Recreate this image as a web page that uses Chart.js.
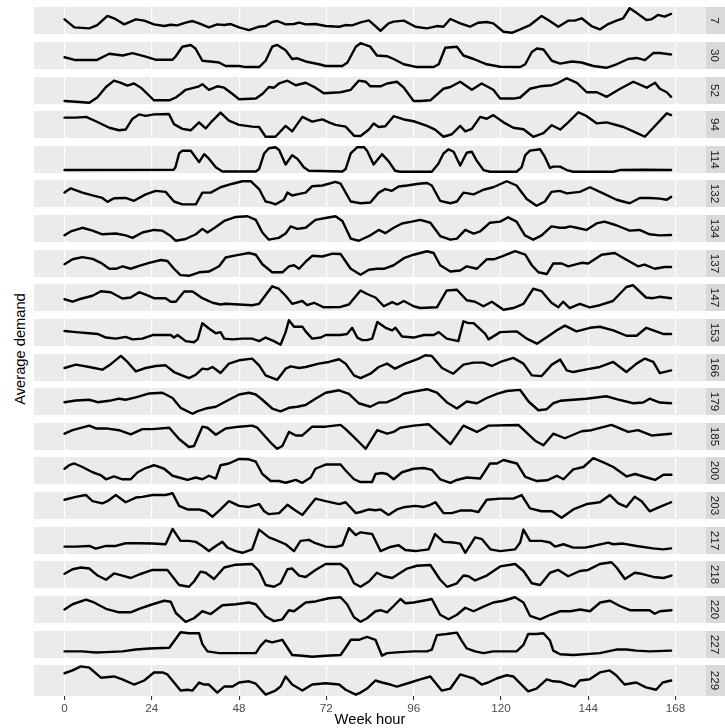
<!DOCTYPE html>
<html>
<head>
<meta charset="utf-8">
<script src="https://cdn.jsdelivr.net/npm/chart.js@4"></script>
<style>
  body { margin: 0; background: #fff; width: 725px; height: 728px; overflow: hidden; position: relative;
         font-family: "Liberation Sans", Arial, sans-serif; }
  canvas { position: absolute; left: 34px; }
  #ytitle { position: absolute; left: 20px; top: 349px; transform: translate(-50%, -50%) rotate(-90deg);
            font-size: 14.7px; white-space: nowrap; color: #000; }
</style>
</head>
<body>
<div id="ytitle">Average demand</div>
<script>
// week hour ticks
const weekTicks = [0, 24, 48, 72, 96, 120, 144, 168];

// station ids (facet strips)
const stations = ['7', '30', '52', '94', '114', '132', '134', '137', '147', '153',
                  '166', '179', '185', '200', '203', '217', '218', '220', '227', '229'];

// [hour, average demand] (free y scale per panel)
const s7 = [[0,45],[2.7,21],[6.8,18],[9,28],[11.8,55],[13.6,48],[16.4,30],[19.6,45],[21.9,41],[24.6,30],[27.4,25],[29.2,29],[31,27],[33.3,35],[35.2,40],[37,33],[39.7,21],[42,30],[43.9,28],[45.7,31],[48,21],[50.7,13],[53.5,23],[55.3,25],[57.1,37],[58.5,40],[60.8,30],[63.1,31],[64.5,35],[66.3,30],[69,31],[71.8,25],[75.5,23],[77.3,28],[79.1,27],[81.4,36],[83.7,42],[86.9,11],[89.1,33],[90.5,38],[93.3,41],[96.5,23],[99.7,18],[102.4,25],[104.2,23],[106.1,46],[108.8,33],[111.5,23],[113.8,35],[116.1,37],[117.9,33],[120.7,8],[123,5],[125.3,15],[128,28],[131.2,55],[133,43],[135.8,23],[138.5,41],[140.3,41],[142.2,48],[144.9,25],[147.2,15],[149.5,31],[151.8,41],[153.6,48],[155.4,78],[157.2,65],[160,43],[161.4,45],[163.2,58],[165,53],[166.8,61]];
const s30 = [[0,35],[3,27],[8.8,27],[12.3,45],[16,40],[18.7,47],[22.3,37],[25,28],[29.7,28],[30.6,38],[32.4,65],[34.7,70],[36,60],[37.9,25],[40.7,22],[42.5,20],[44.3,10],[48,10],[49.8,7],[53.5,7],[55.3,25],[57.1,65],[58.5,70],[60.8,55],[62.6,30],[64,32],[66.3,23],[70,15],[71.8,10],[76.4,10],[77.8,20],[80.1,65],[81.4,75],[84.1,65],[85.9,40],[88.7,38],[90.5,30],[93.3,15],[96.9,7],[101.5,7],[102.9,15],[104.7,62],[107.9,65],[109.7,40],[112.5,30],[116.1,15],[119.8,8],[125.3,7],[126.7,15],[128.5,50],[129.9,60],[131.7,57],[134,25],[136.3,17],[139.5,23],[142.2,20],[145.4,10],[149,5],[151.8,15],[155,30],[157.3,33],[159.6,27],[161.9,47],[163.7,47],[166.8,43]];
const s52 = [[0,10],[3.1,8],[6.8,5],[9,20],[11.4,50],[13.6,68],[15.5,62],[17.3,54],[19.1,60],[21,48],[23.3,25],[24.6,12],[28.8,12],[30.6,20],[31.9,30],[33.3,42],[35.2,47],[37,52],[37.9,58],[39.7,42],[42,52],[43.9,48],[46.2,30],[48,15],[52.6,17],[54.4,30],[56.2,50],[57.6,48],[59,60],[61.3,68],[63.6,55],[66.3,62],[69,48],[71.3,32],[75.9,35],[78.7,42],[80.9,68],[82.8,65],[84.1,52],[86.9,52],[88.7,60],[91.4,65],[93.3,48],[96,10],[97.8,10],[100.6,12],[104.2,45],[106.1,50],[108.8,65],[112,42],[114.7,60],[117.9,42],[119.8,17],[123.4,17],[125.3,20],[128,45],[130.8,52],[134,55],[135.4,60],[138.1,75],[140.9,62],[143.6,35],[146.4,35],[149.1,22],[152.8,45],[156.4,65],[160.1,48],[162.4,62],[163.7,45],[165.6,35],[166.8,22]];
const s94 = [[0,61],[3.1,61],[5.9,63],[8.6,51],[12.3,33],[15,26],[16.8,28],[18.7,58],[20.5,70],[22.3,66],[24.6,70],[28.7,71],[30.1,43],[32.4,30],[34.7,26],[37,48],[38.8,31],[40.7,53],[42.9,75],[45.2,53],[48,41],[51.6,36],[53.5,35],[55.3,8],[58,8],[60.8,38],[62.6,23],[65.4,63],[68.1,50],[70.9,56],[72.7,48],[74.5,41],[77.3,36],[79.6,11],[81.4,10],[83.7,28],[85,45],[86.4,35],[88.2,37],[90.5,65],[93.3,56],[96,51],[99.7,38],[101.9,28],[104.2,8],[106.5,15],[108.8,38],[110.2,23],[112,30],[114.3,63],[116.1,58],[117.9,68],[120.7,48],[123.4,33],[126.2,29],[128.9,8],[131.7,18],[134,40],[136.3,28],[138.5,48],[141.3,76],[143.6,65],[146.4,45],[149.1,48],[153.7,35],[156.4,23],[159.6,8],[161.9,33],[165.6,73],[166.8,68]];
const s114 = [[0,10],[30,11],[30.5,18],[31.5,58],[32.4,66],[34.7,66],[37,33],[38.4,56],[39.7,43],[41.6,18],[43.4,6],[52.6,6],[53.5,13],[54.9,58],[56.2,73],[58,76],[59,68],[60.8,26],[62.6,53],[64,43],[65.8,18],[67.2,8],[76.4,6],[77.3,13],[78.7,58],[80.5,76],[82.4,76],[83.2,66],[85,26],[87.3,56],[89.1,36],[90.9,8],[92.3,5],[101,5],[102.8,28],[104.2,58],[105.6,70],[107,63],[108.8,23],[110.6,60],[112,63],[113.3,38],[115.2,10],[117,5],[124.3,5],[125.7,18],[126.7,53],[128,66],[130.8,70],[132.1,48],[133.5,16],[134.4,20],[136.3,20],[138.1,10],[139.9,5],[150.9,5],[152.7,10],[159.1,11],[166.8,10]];
const s132 = [[0,42],[1.7,54],[4.9,42],[7.7,34],[10.4,27],[11.8,16],[13.6,26],[16.8,27],[19.1,19],[22.3,37],[25.1,47],[27.8,44],[30.1,17],[32.4,9],[36.1,9],[37.9,42],[40.2,42],[42.9,57],[46.2,67],[48.9,74],[51.2,74],[53.5,52],[55.3,17],[56.7,14],[58,9],[60.3,22],[61.3,42],[62.6,34],[64.9,39],[66.3,42],[68.1,60],[70.9,62],[74.5,72],[75.9,67],[78.7,17],[81.4,12],[84.1,14],[86.4,42],[88.2,52],[90,47],[91.9,59],[94.2,62],[97.4,67],[99.7,69],[101,62],[103.3,19],[106.1,12],[107.9,17],[109.7,42],[112.5,37],[115.2,50],[117.9,57],[121.6,74],[124.3,62],[127.1,24],[129.8,5],[132.1,17],[133.9,44],[136.2,47],[138.1,40],[141.7,44],[144.5,57],[148.1,40],[151.8,22],[155.4,12],[158.2,27],[160.9,27],[163.7,25],[165.6,22],[166.8,30]];
const s134 = [[0,22],[1.7,33],[4.9,43],[7.7,35],[10.4,25],[14.1,27],[16.8,22],[18.7,15],[21.4,30],[24.6,37],[26.9,35],[29.2,20],[30.6,7],[33.3,12],[36.1,25],[37.9,40],[39.3,30],[41.6,45],[43.9,62],[47.1,73],[50.3,75],[52.6,65],[54.4,30],[56.2,10],[58.9,15],[60.8,27],[62.2,47],[64,40],[66.3,43],[69,65],[71.8,70],[74.5,75],[76.4,62],[78.7,13],[80.9,7],[84.1,22],[86.4,37],[88.2,28],[90.5,43],[92.8,55],[95.5,60],[97.8,65],[100.6,57],[103.3,20],[106.1,10],[107.9,13],[110.2,37],[112.5,27],[114.3,33],[117,57],[119.8,60],[122,72],[124.3,60],[126.6,22],[128.9,10],[131.2,22],[133.9,47],[136.2,43],[137.6,43],[139,47],[140.8,43],[143.5,37],[146.3,55],[148.5,60],[151.7,50],[155.4,35],[158.1,37],[160.9,25],[163.6,22],[166.8,23]];
const s137 = [[0,38],[2.2,52],[4.9,58],[7.7,53],[10,42],[12.3,25],[14.1,25],[16,32],[18.2,25],[20.5,33],[23.3,42],[26.5,50],[28.3,47],[30.1,25],[31.9,7],[34.2,5],[37,15],[39.7,17],[42.5,32],[44.3,57],[47.1,63],[50.7,70],[52.6,65],[54.4,38],[57.1,15],[59.9,15],[61.7,32],[63.1,35],[64.5,25],[66.3,45],[68.1,62],[70.9,60],[73.7,68],[75.9,67],[78.7,25],[81.4,8],[83.7,22],[86,25],[87.8,25],[90.5,35],[93.3,55],[96,65],[99.7,75],[101.5,70],[103.3,35],[106.1,17],[108.8,20],[110.6,32],[113.4,25],[116.1,52],[118,52],[120.3,60],[123.9,75],[126.7,65],[128.5,35],[130.3,15],[132.6,10],[134.4,40],[136.7,40],[138.5,32],[142.2,42],[144,40],[147.7,65],[151.3,70],[155,48],[157.7,32],[159.5,37],[162.3,25],[165,30],[166.8,30]];
const s147 = [[0,33],[2.2,26],[4,33],[7.7,43],[10,56],[12.7,53],[15.9,35],[18.2,38],[20.5,53],[22.3,46],[24.6,36],[27.8,36],[29.2,26],[30.6,26],[32.9,55],[35.2,55],[37.9,36],[40.7,23],[42.9,18],[44.3,20],[48,18],[51.6,16],[53.5,20],[57.1,70],[58.9,63],[60.8,43],[62.6,20],[65.4,28],[66.7,16],[68.6,23],[71.3,10],[75.9,11],[78.2,18],[81.4,58],[83.2,48],[85.5,38],[87.8,13],[90.1,25],[91.5,18],[93.3,28],[96,13],[97.8,8],[102.4,10],[105.1,58],[107.9,60],[110.6,30],[112.9,26],[115.2,13],[117.5,26],[120.7,3],[123.4,8],[126.2,20],[128.9,63],[131.2,56],[133.9,23],[135.8,10],[137.1,26],[138.9,8],[141.7,20],[144.4,10],[147.2,16],[150.8,28],[154.5,68],[156.3,73],[159.9,38],[161.8,36],[163.6,40],[166.8,36]];
const s153 = [[0,45],[3.1,42],[6.8,39],[9.1,37],[11.4,27],[14.1,24],[16.8,29],[18.7,22],[21.4,24],[24.2,34],[26.9,34],[29.2,34],[30.1,27],[31.1,34],[33.3,17],[35.6,14],[36.6,22],[37.9,67],[39.7,52],[41.6,39],[42.9,42],[43.9,24],[46.2,22],[48.9,24],[51.6,24],[53.5,17],[55.3,27],[57.6,17],[59.4,7],[60.8,42],[61.7,75],[63.1,57],[65.4,57],[66.3,44],[68.1,24],[70.5,27],[71.8,34],[75.9,34],[77.7,37],[79.1,54],[80.5,27],[81.9,20],[83.2,20],[84.6,24],[86,70],[88.3,54],[90.1,47],[91,54],[92.8,30],[96,27],[98.8,34],[101.5,34],[102.9,42],[105.1,24],[108.3,17],[109.7,72],[111.1,67],[112.5,67],[115.7,37],[116.6,22],[119.8,42],[124.4,44],[127.1,24],[129.9,10],[133.5,34],[135.4,47],[137.6,60],[140.8,44],[144.5,54],[147.2,57],[150.9,47],[154.5,32],[157.3,32],[160,54],[161.9,47],[164.6,37],[166.8,37]];
const s166 = [[0,40],[3.1,50],[6.8,43],[10.4,35],[12.3,48],[15.5,76],[17.3,58],[19.6,30],[22.3,40],[25.1,46],[27.8,48],[30.1,28],[34.2,10],[36.1,20],[37.9,38],[39.3,36],[40.7,43],[42.9,25],[45.2,53],[48,63],[51.6,68],[53.5,48],[55.3,18],[58.5,5],[60.8,38],[62.2,45],[64.5,40],[66.3,43],[69.9,53],[72.7,58],[75.5,66],[77.3,53],[79.6,18],[81.4,10],[84.1,23],[86.4,43],[88.7,53],[90.9,38],[93.7,53],[97.4,68],[99.2,78],[101,76],[103.8,40],[106.9,23],[109.7,50],[112.5,56],[115.2,56],[117.5,46],[120.3,60],[123.4,70],[126.2,53],[128.5,18],[131.2,16],[134,50],[136.3,65],[138.1,33],[139.9,28],[143.5,36],[147.2,43],[150.9,58],[154.5,28],[157.3,53],[159.6,68],[161.9,58],[163.7,25],[166.8,33]];
const s179 = [[0,38],[3.1,43],[6.8,45],[9.1,38],[12.3,42],[15,48],[16.8,45],[19.6,52],[23.3,63],[26.9,65],[29.7,50],[31.9,22],[35.2,5],[36.5,12],[38.8,20],[41.6,25],[45.2,45],[48,60],[50.7,65],[52.6,60],[54.4,45],[57.1,20],[59.4,12],[61.7,22],[64,25],[66.3,30],[69,48],[71.8,65],[75.5,72],[78.2,62],[80.9,35],[84.1,25],[86.4,37],[88.7,38],[91.4,50],[93.3,62],[96,68],[99.7,75],[102.4,65],[105.1,38],[107.9,20],[110.6,40],[113.4,35],[116.1,50],[118.9,62],[121.6,70],[125.3,73],[127.6,40],[130.3,15],[132.6,18],[134.4,35],[136.3,42],[139.9,45],[143.5,48],[149,55],[151.8,47],[156.4,35],[159.1,37],[160.9,48],[163.7,37],[166.8,35]];
const s185 = [[0,48],[2.2,58],[6.8,71],[8.6,63],[11.4,63],[15,58],[18.2,46],[21.4,61],[24.2,61],[28.8,65],[31.5,33],[34.2,10],[35.6,13],[37.9,68],[39.3,65],[41.6,45],[44.3,63],[48,68],[51.6,71],[53,65],[57.1,18],[58.5,5],[59.9,13],[61.7,53],[63.6,43],[65.4,43],[68.1,68],[71.8,68],[75.9,73],[77.3,61],[79.6,38],[82.8,5],[86,58],[88.7,48],[90.5,53],[92.3,65],[96,71],[100.1,75],[106.1,18],[109.7,71],[113.4,53],[116.6,71],[124.8,73],[129.4,28],[131.7,15],[134.4,48],[137.6,35],[142.2,55],[144.9,58],[150.4,73],[155,53],[157.7,58],[161.4,43],[166.8,48]];
const s200 = [[0,45],[1.3,55],[2.7,60],[4.9,50],[7.7,35],[9.9,27],[11.4,15],[13.6,23],[15.9,15],[18.2,15],[20.1,35],[22.3,47],[24.6,55],[27.4,45],[29.7,25],[31.5,20],[33.8,13],[36.1,20],[37.9,15],[39.7,25],[41.6,17],[42.9,55],[45.2,60],[48,73],[50.7,72],[52.6,65],[54.4,30],[56.7,10],[58.9,10],[60.8,5],[63.6,13],[65.4,5],[67.7,20],[69,45],[71.8,57],[75.9,57],[77.3,40],[79.6,15],[81.4,7],[84.6,7],[85.5,30],[87.3,33],[88.7,30],[90.5,15],[92.8,35],[96,45],[98.8,47],[101,42],[103.3,15],[106.1,5],[107.9,13],[110.6,20],[114.3,17],[117,60],[118.9,60],[120.7,70],[124.4,60],[126.7,22],[129.9,10],[132.7,12],[135.4,25],[137.2,15],[139.9,43],[142.7,50],[145.4,75],[148.2,63],[150.9,50],[154.6,23],[156.9,30],[160.1,20],[162.4,13],[164.7,28],[166.9,28]];
const s203 = [[0,52],[3.1,60],[5.9,65],[7.7,48],[10.4,42],[11.8,48],[14.1,65],[16.8,45],[19.6,58],[21.4,60],[24.2,65],[27.8,65],[29.7,70],[31.5,35],[33.8,25],[37,25],[38.8,20],[40.7,5],[42.9,25],[45.2,48],[48,35],[50.7,32],[53.5,40],[54.9,20],[56.2,12],[59,15],[61.3,38],[63.1,25],[65.4,10],[69,55],[71.8,48],[75.5,40],[77.3,45],[80.1,15],[81.4,18],[83.7,25],[85.5,23],[86.9,25],[89.1,10],[91.4,25],[93.7,32],[96.5,35],[98.8,32],[100.6,38],[102,45],[104.2,15],[106.5,15],[108.8,22],[112,22],[113.8,18],[116.1,52],[119.8,55],[123.4,55],[125.7,65],[128,28],[131.2,20],[134,20],[136.7,2],[139.9,25],[143.6,40],[147.2,45],[150,65],[152.3,42],[154.5,32],[156.8,60],[158.7,48],[160.9,20],[163.7,32],[166.8,45]];
const s217 = [[0,21],[3.1,21],[6.8,23],[8.6,15],[11.4,23],[14.1,23],[16.8,31],[20.5,31],[24.2,30],[27.8,28],[29.7,73],[31.9,38],[34.2,38],[36.1,35],[37.9,23],[39.7,8],[41.6,23],[43.4,35],[44.8,18],[47.1,8],[48.9,3],[51.6,13],[53.5,71],[56.2,48],[58,41],[60.8,28],[63.1,8],[64.9,38],[67.2,41],[69,31],[71.8,21],[74.5,20],[76.4,25],[78.2,75],[80.1,55],[81.4,63],[84.6,58],[86.9,8],[89.6,20],[91.9,25],[93.7,11],[96.5,8],[100.1,13],[101.9,58],[104.2,35],[106.9,33],[108.8,30],[110.2,3],[112.9,48],[114.8,43],[117.1,13],[119.8,8],[123.9,13],[125.3,33],[126.2,71],[128,38],[131.2,38],[133.5,33],[134.9,21],[137.2,28],[139.9,18],[143.1,18],[145.4,23],[149.5,33],[150.9,28],[153.6,30],[157.3,23],[161.8,16],[164.6,13],[166.8,16]];
const s218 = [[0,40],[2.2,53],[4.5,58],[6.8,55],[9.1,35],[11.4,23],[13.6,41],[15.9,35],[18.2,28],[20.5,38],[24.2,51],[28.3,51],[31.5,8],[34.2,3],[35.6,18],[37.4,46],[38.8,43],[41.1,25],[43.9,58],[47.1,66],[51.6,68],[53.5,48],[55.3,8],[57.6,3],[59.4,13],[61.3,53],[62.6,55],[64.5,35],[66.3,31],[69,51],[71.8,68],[75.9,68],[77.7,53],[79.6,13],[81.4,3],[83.7,18],[85.9,43],[87.8,33],[90.1,28],[94.2,55],[96.9,63],[100.6,65],[103.3,23],[105.2,3],[107.9,13],[109.7,35],[111.1,33],[112.9,21],[116.1,35],[119.8,61],[123.9,68],[126.2,48],[128.5,13],[130.8,8],[133.5,43],[135.8,51],[138.5,33],[141.7,48],[144,51],[147.2,68],[150.4,73],[151.8,58],[154.1,25],[156.8,43],[158.2,41],[161.9,31],[164.7,28],[166.9,35]];
const s220 = [[0,38],[2.2,53],[5.9,66],[8.1,58],[11.4,40],[15,30],[18.2,30],[20.5,40],[24.2,53],[27.4,63],[29.2,60],[30.6,28],[33.3,3],[35.6,13],[37.9,33],[40.2,25],[43.4,50],[47.1,53],[50.7,58],[52.6,53],[55.3,18],[57.6,5],[59.9,10],[61.7,36],[63.1,33],[66.3,58],[69,61],[72.7,70],[75.9,73],[77.7,53],[79.6,16],[81.4,3],[83.2,13],[85.5,33],[86.9,36],[88.7,30],[90.5,48],[92.4,68],[93.7,56],[96,58],[99.7,65],[101,68],[103.3,23],[105.6,10],[107.9,23],[110.2,43],[112.5,33],[115.2,46],[117.9,58],[120.7,63],[123.9,73],[126.2,58],[128,20],[130.8,10],[133.6,23],[136.3,33],[139.1,33],[141.8,38],[144.5,33],[147.3,58],[150,63],[152.7,48],[155.5,36],[159.1,36],[160.9,36],[162.3,26],[163.7,33],[166.9,36]];
const s227 = [[0,20],[4.9,20],[8.6,17],[11.4,18],[15.9,20],[19.6,25],[23.3,28],[28.8,30],[30.1,48],[31.9,73],[34.2,70],[37,70],[37.9,40],[39.3,20],[42.5,15],[47.1,15],[52.6,15],[53.9,35],[55.3,50],[57.1,45],[59.9,52],[61.3,30],[62.6,10],[65.4,8],[68.1,5],[71.8,8],[75.9,10],[77.3,30],[78.7,52],[80.9,52],[83.2,60],[85.5,52],[87.3,8],[88.7,15],[92.3,18],[96,20],[99.7,20],[101,25],[102.4,65],[105.1,68],[107.9,72],[109.2,50],[110.6,28],[112.9,20],[115.2,15],[117.9,20],[124.3,20],[126.2,38],[127.5,68],[129.8,68],[131.7,70],[133.5,50],[134.4,22],[136.3,12],[139.9,10],[147.2,15],[151.7,25],[154.5,25],[157.2,22],[160.9,20],[166.8,22]];
const s229 = [[0,56],[2.2,63],[4.5,73],[6.8,70],[10,45],[13.6,48],[15.9,41],[19.1,28],[21.9,38],[24.6,58],[26.9,58],[28.3,53],[31.9,13],[33.8,15],[35.2,13],[37,33],[38.4,28],[39.7,28],[42,8],[43.9,23],[46.2,23],[48,33],[50.7,36],[52.6,30],[55.3,3],[58,13],[59.4,23],[60.8,48],[62.6,28],[65.4,13],[68.1,28],[71.8,31],[75.5,28],[77.3,15],[80.1,3],[81.4,8],[83.2,18],[85.5,38],[87.3,33],[89.6,28],[91.4,23],[95.1,33],[97.8,41],[100.6,48],[103.7,13],[106.1,18],[108.8,53],[110.6,48],[112.5,43],[114.7,28],[116.5,33],[118.8,43],[121.6,51],[123.4,48],[126.2,23],[127.5,11],[129.8,18],[132.6,41],[134.4,36],[136.2,35],[138.5,28],[140.3,23],[141.7,38],[144.4,41],[147.2,58],[149.9,63],[151.7,51],[154,28],[157.2,33],[159.9,21],[162.7,15],[164.5,33],[166.8,38]];

const series = [s7, s30, s52, s94, s114, s132, s134, s137, s147, s153,
                s166, s179, s185, s200, s203, s217, s218, s220, s227, s229];

Chart.defaults.font.family = '"Liberation Sans", Arial, sans-serif';

const STRIP_W = 19;

// grey panel background + facet strip on the right
const panelPlugin = {
  id: 'panelBg',
  beforeDraw(chart, args, opts) {
    const a = chart.chartArea, c = chart.ctx;
    c.save();
    c.fillStyle = '#EBEBEB';
    c.fillRect(a.left, a.top, a.right - a.left, a.bottom - a.top);
    c.restore();
  },
  afterDraw(chart, args, opts) {
    const a = chart.chartArea, c = chart.ctx;
    c.save();
    c.fillStyle = '#D9D9D9';
    c.fillRect(a.right, a.top, STRIP_W, a.bottom - a.top);
    c.translate(a.right + STRIP_W / 2, (a.top + a.bottom) / 2);
    c.rotate(Math.PI / 2);
    c.fillStyle = '#1A1A1A';
    c.font = '11.7px "Liberation Sans", Arial, sans-serif';
    c.textAlign = 'center';
    c.textBaseline = 'middle';
    c.fillText(opts.label, 0, 1);
    c.restore();
  }
};

stations.forEach((id, i) => {
  const last = i === stations.length - 1;
  const pts = series[i];
  const ys = pts.map(p => p[1]);
  const lo = Math.min(...ys), hi = Math.max(...ys);
  const pad = (hi - lo) * 0.05;

  const cv = document.createElement('canvas');
  cv.width = 691;
  cv.height = last ? 62 : 27;
  cv.style.top = Math.round(7.3 + i * 34.63) + 'px';
  document.body.appendChild(cv);

  new Chart(cv, {
    type: 'line',
    data: {
      datasets: [{
        data: pts.map(p => ({ x: p[0], y: p[1] })),
        borderColor: '#000',
        borderWidth: 2.4,
        borderJoinStyle: 'round',
        borderCapStyle: 'round',
        pointRadius: 0,
        tension: 0,
        fill: false
      }]
    },
    options: {
      responsive: false,
      animation: false,
      devicePixelRatio: 1,
      layout: { padding: { right: STRIP_W } },
      plugins: {
        legend: { display: false },
        tooltip: { enabled: false },
        panelBg: { label: id }
      },
      scales: {
        x: {
          type: 'linear',
          min: -8.4,
          max: 176.4,
          afterBuildTicks: s => { s.ticks = weekTicks.map(v => ({ value: v })); },
          grid: { color: '#fff', lineWidth: 1.1, drawTicks: last, tickLength: 4, tickColor: '#333' },
          border: { display: false },
          ticks: { display: last, color: '#4D4D4D', font: { size: 11.7 }, padding: 2, maxRotation: 0 },
          title: { display: last, text: 'Week hour', color: '#000', font: { size: 14.7, lineHeight: 1 }, padding: 0 }
        },
        y: { display: false, min: lo - pad, max: hi + pad }
      }
    },
    plugins: [panelPlugin]
  });
});
</script>
</body>
</html>
